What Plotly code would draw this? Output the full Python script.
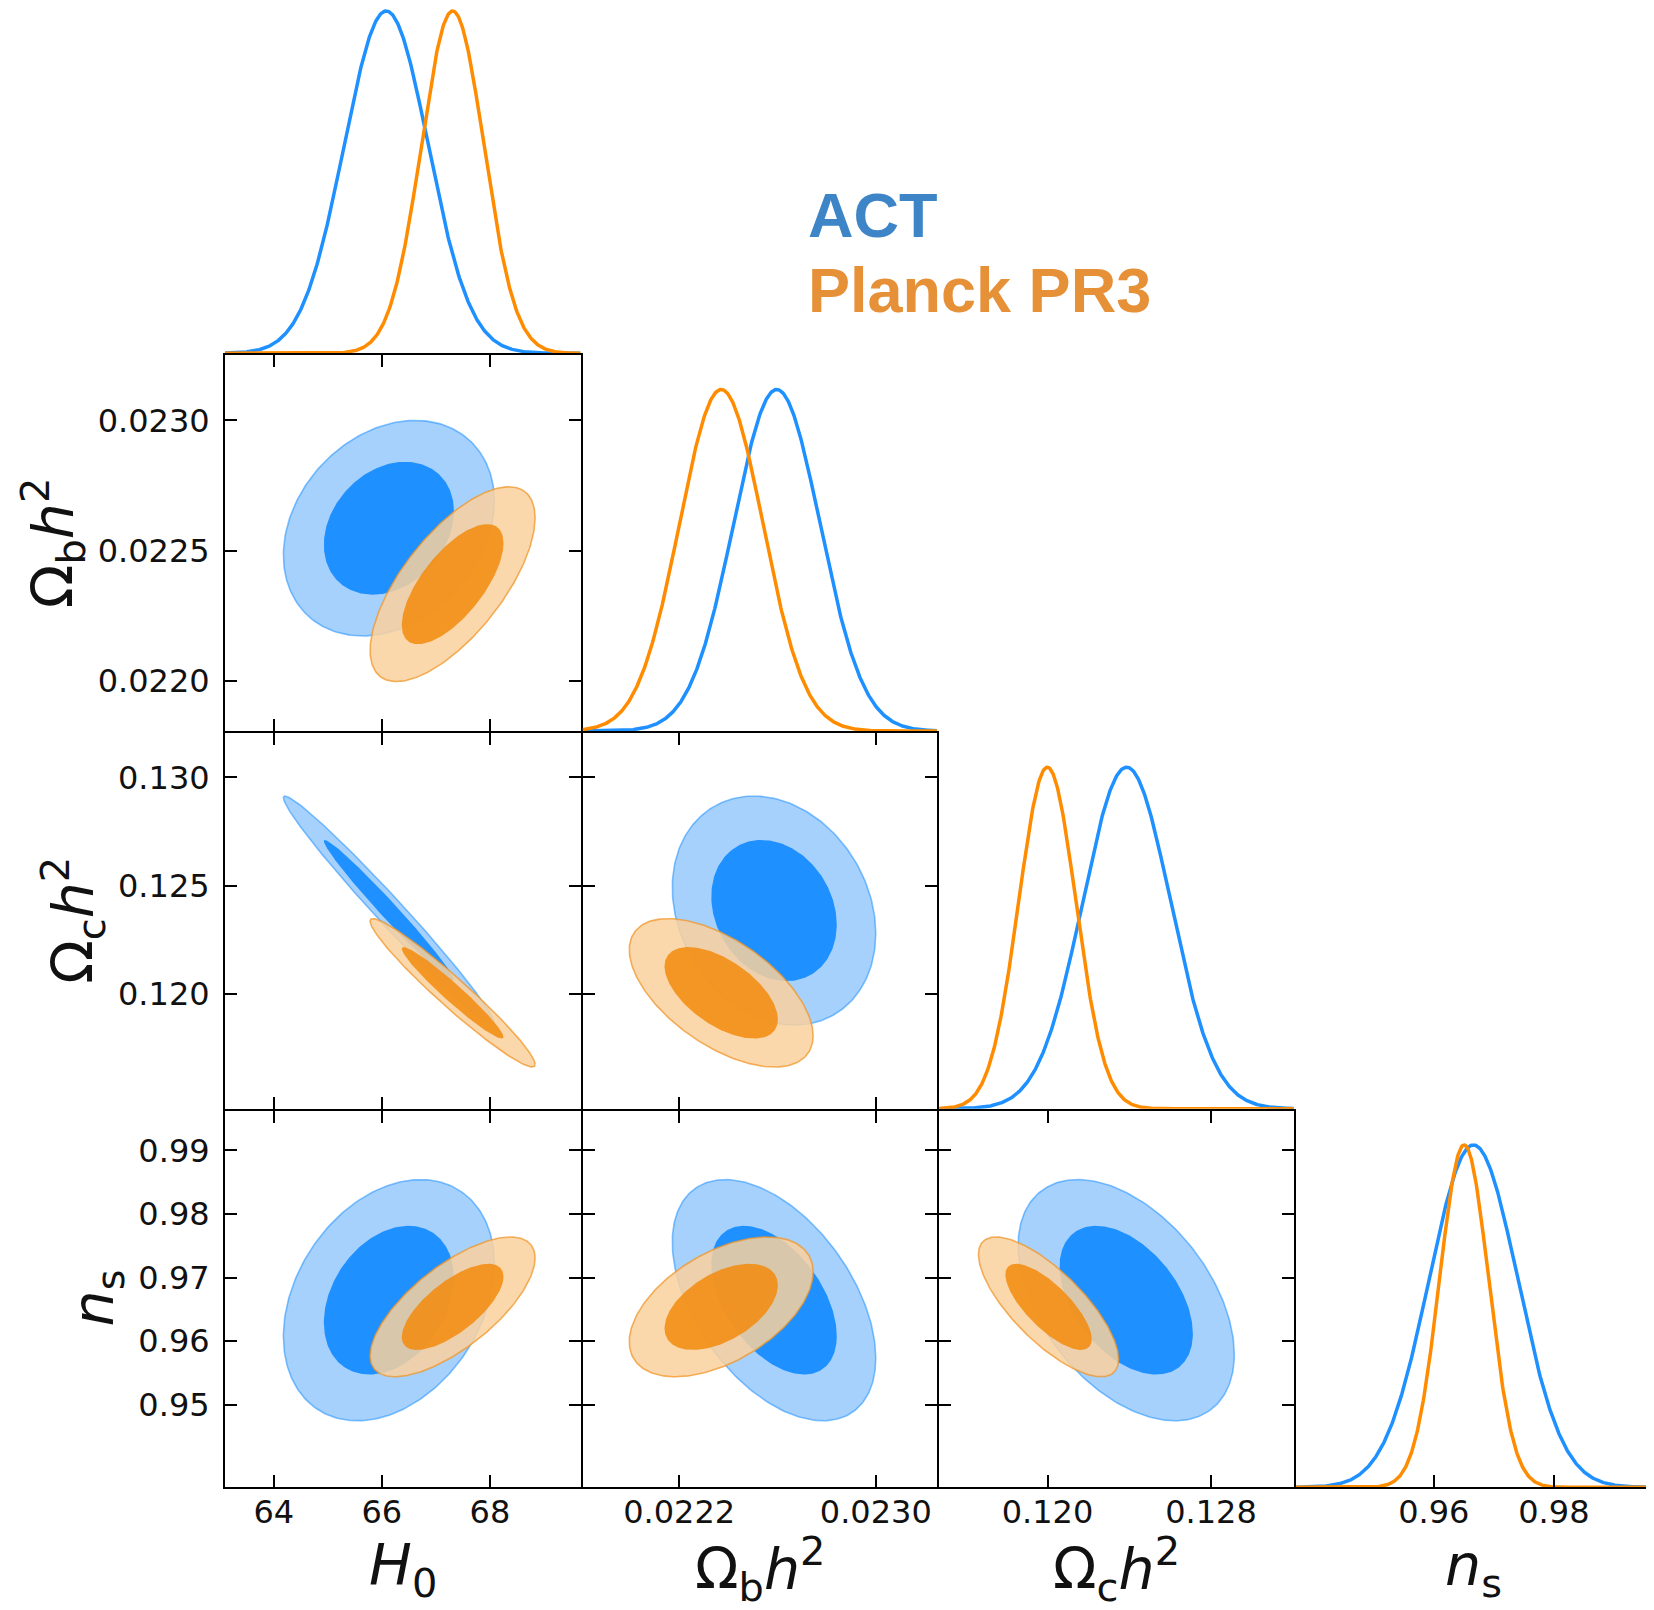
import numpy as np
import plotly.graph_objects as go

# ---------------- data ----------------
PARAM_LABELS = ["<i>H</i><sub>0</sub>",
                "Ω<sub>b</sub><i>h</i><sup>2</sup>",
                "Ω<sub>c</sub><i>h</i><sup>2</sup>",
                "<i>n</i><sub>s</sub>"]

# 2D posterior summaries (centre, width, correlation)
ACT_MEAN = [66.13, 0.022586, 0.12385, 0.96644]
ACT_SIGMA = [0.798, 0.0001691, 0.00216, 0.00775]
PLANCK_MEAN = [67.31, 0.022371, 0.12005, 0.96539]
PLANCK_SIGMA = [0.624, 0.0001528, 0.00140, 0.00449]
CORR_PAIRS = [(1, 0), (2, 0), (3, 0), (2, 1), (3, 1), (3, 2)]
ACT_CORR = [0.25, -0.985, 0.30, -0.20, -0.48, -0.45]
PLANCK_CORR = [0.68, -0.965, 0.70, -0.58, 0.50, -0.75]

# 1D marginal summaries (peak, width)
ACT_MEAN_1D = [66.08, 0.022597, 0.12387, 0.96660]
ACT_SIGMA_1D = [0.78, 0.000176, 0.00215, 0.0074]
PLANCK_MEAN_1D = [67.31, 0.022371, 0.11999, 0.96504]
PLANCK_SIGMA_1D = [0.58, 0.000170, 0.00140, 0.0041]

CONTOUR_LEVELS = [0.95, 0.68]

AXIS_RANGE = [[63.095, 69.68], [0.021807, 0.023250],
              [0.11470, 0.13205], [0.93700, 0.99625]]

X_TICKS = [[64, 66, 68], [0.0222, 0.0230], [0.120, 0.128], [0.96, 0.98]]
X_TICK_TEXT = [["64", "66", "68"], ["0.0222", "0.0230"],
               ["0.120", "0.128"], ["0.96", "0.98"]]
Y_TICKS = [[], [0.0220, 0.0225, 0.0230], [0.120, 0.125, 0.130],
           [0.95, 0.96, 0.97, 0.98, 0.99]]
Y_TICK_TEXT = [[], ["0.0220", "0.0225", "0.0230"], ["0.120", "0.125", "0.130"],
               ["0.95", "0.96", "0.97", "0.98", "0.99"]]

LEGEND_TEXT = ["ACT", "Planck PR3"]

# ---------------- geometry / style ----------------
PAGE_W, PAGE_H = 1654, 1610
OFF = 8                      # default page margin of the html body
W, H = PAGE_W - OFF, PAGE_H - OFF
COL_X = [225, 581.6, 938.2, 1294.8, 1651.4]
ROW_TOP = [0, 354.3, 732.0, 1109.7]
ROW_BOT = [354.3, 732.0, 1109.7, 1487.3]
PEAK_PX = 343.3
LW = 2

BLUE = "rgb(30,144,255)"
ORANGE = "rgb(255,140,0)"
ACT_FILLS = ["rgb(166,209,252)", "rgb(30,144,255)"]
ACT_EDGE = ["rgba(30,144,255,0.55)", "rgba(30,144,255,0)"]
PL_FILLS = ["rgba(250,209,157,0.85)", "rgba(242,139,12,0.85)"]
PL_EDGE = ["rgba(240,150,40,0.75)", "rgba(240,150,40,0)"]

TICK_FONT = dict(family="DejaVu Sans", size=32, color="#111111")
LABEL_FONT = dict(family="DejaVu Sans", size=57, color="#111111")


def px_x(p):
    return (p - OFF) / W


def px_y(p):
    return 1 - (p - OFF) / H


def dom_x(j):
    a = COL_X[j] + (LW / 2 if j > 0 else 0)
    b = COL_X[j + 1] - (LW / 2 if j < 3 else 0)
    return [max(px_x(a), 0), min(px_x(b), 1)]


def dom_y(i):
    top = max(ROW_TOP[i] + (LW / 2 if i > 0 else 0), OFF)
    bot = ROW_BOT[i] - (LW / 2 if i < 3 else 0)
    return [px_y(bot), px_y(top)]


def corr_of(corrs, i, j):
    return corrs[CORR_PAIRS.index((i, j))]


def ellipse(mx, my, sx, sy, rho, level):
    r = np.sqrt(-2.0 * np.log(1.0 - level))
    t = np.linspace(0, 2 * np.pi, 241)
    x = mx + r * sx * np.cos(t)
    y = my + r * sy * (rho * np.cos(t) + np.sqrt(1 - rho ** 2) * np.sin(t))
    return x, y


fig = go.Figure()
layout = {}
aid = 0
for i in range(4):
    for j in range(i + 1):
        aid += 1
        xa = "x" if aid == 1 else f"x{aid}"
        ya = "y" if aid == 1 else f"y{aid}"
        xk = "xaxis" if aid == 1 else f"xaxis{aid}"
        yk = "yaxis" if aid == 1 else f"yaxis{aid}"
        if i == j:
            xs = np.linspace(AXIS_RANGE[j][0], AXIS_RANGE[j][1], 500)
            for mean, sig, col in [(ACT_MEAN_1D[j], ACT_SIGMA_1D[j], BLUE),
                                   (PLANCK_MEAN_1D[j], PLANCK_SIGMA_1D[j], ORANGE)]:
                fig.add_trace(go.Scatter(
                    x=xs, y=np.exp(-0.5 * ((xs - mean) / sig) ** 2),
                    mode="lines", line=dict(color=col, width=3.5),
                    xaxis=xa, yaxis=ya, showlegend=False, hoverinfo="skip"))
            top = max(ROW_TOP[i], OFF)
            height = ROW_BOT[i] - top
            xax = dict(domain=dom_x(j), range=AXIS_RANGE[j], anchor=ya,
                       showgrid=False, zeroline=False)
            if i == 3:
                xax.update(showline=True, linecolor="black", linewidth=LW,
                           ticks="inside", ticklen=12, tickwidth=2,
                           tickcolor="black", tickvals=X_TICKS[j],
                           ticktext=X_TICK_TEXT[j], tickfont=TICK_FONT,
                           ticklabelstandoff=-5, mirror=False)
            else:
                xax.update(visible=False)
            layout[xk] = xax
            layout[yk] = dict(domain=dom_y(i), range=[0, height / PEAK_PX],
                              anchor=xa, visible=False)
        else:
            for means, sigs, corrs, fills, edges in [
                    (ACT_MEAN, ACT_SIGMA, ACT_CORR, ACT_FILLS, ACT_EDGE),
                    (PLANCK_MEAN, PLANCK_SIGMA, PLANCK_CORR, PL_FILLS, PL_EDGE)]:
                rho = corr_of(corrs, i, j)
                for k, lev in enumerate(CONTOUR_LEVELS):
                    ex, ey = ellipse(means[j], means[i], sigs[j], sigs[i], rho, lev)
                    fig.add_trace(go.Scatter(
                        x=ex, y=ey, mode="lines", fill="toself",
                        fillcolor=fills[k],
                        line=dict(color=edges[k], width=1.6),
                        xaxis=xa, yaxis=ya, showlegend=False, hoverinfo="skip"))
            common = dict(showline=True, linecolor="black", linewidth=LW,
                          mirror="ticks", ticks="inside", ticklen=12,
                          tickwidth=2, tickcolor="black", showgrid=False,
                          zeroline=False, tickfont=TICK_FONT)
            layout[xk] = dict(common, domain=dom_x(j), range=AXIS_RANGE[j],
                              anchor=ya, tickvals=X_TICKS[j],
                              ticktext=X_TICK_TEXT[j], ticklabelstandoff=-5,
                              showticklabels=(i == 3))
            layout[yk] = dict(common, domain=dom_y(i), range=AXIS_RANGE[i],
                              anchor=xa, tickvals=Y_TICKS[i],
                              ticktext=Y_TICK_TEXT[i], ticklabelstandoff=7,
                              showticklabels=(j == 0))

annotations = []
# bottom axis labels
for j in range(4):
    annotations.append(dict(
        text=PARAM_LABELS[j], xref="paper", yref="paper",
        x=px_x((COL_X[j] + COL_X[j + 1]) / 2), y=px_y(1569),
        xanchor="center", yanchor="middle", showarrow=False, font=LABEL_FONT))
# left axis labels
LEFT_LABEL_X = [0, 53, 73, 96]
for i in range(1, 4):
    annotations.append(dict(
        text=PARAM_LABELS[i], xref="paper", yref="paper",
        x=px_x(LEFT_LABEL_X[i]), y=px_y((ROW_TOP[i] + ROW_BOT[i]) / 2),
        xanchor="center", yanchor="middle", textangle=-90,
        showarrow=False, font=LABEL_FONT))
# legend texts
for txt, col, ypx in [(LEGEND_TEXT[0], "#3d85c6", 214.5),
                      (LEGEND_TEXT[1], "#e69138", 289.5)]:
    annotations.append(dict(
        text=txt, xref="paper", yref="paper", x=px_x(806), y=px_y(ypx),
        xanchor="left", yanchor="middle", showarrow=False,
        font=dict(family="Liberation Sans", size=63, color=col, weight="bold")))

fig.update_layout(
    width=W, height=H, margin=dict(l=0, r=0, t=0, b=0),
    paper_bgcolor="white", plot_bgcolor="rgba(0,0,0,0)",
    template="none", showlegend=False, annotations=annotations, **layout)

fig.write_html("out.html")
